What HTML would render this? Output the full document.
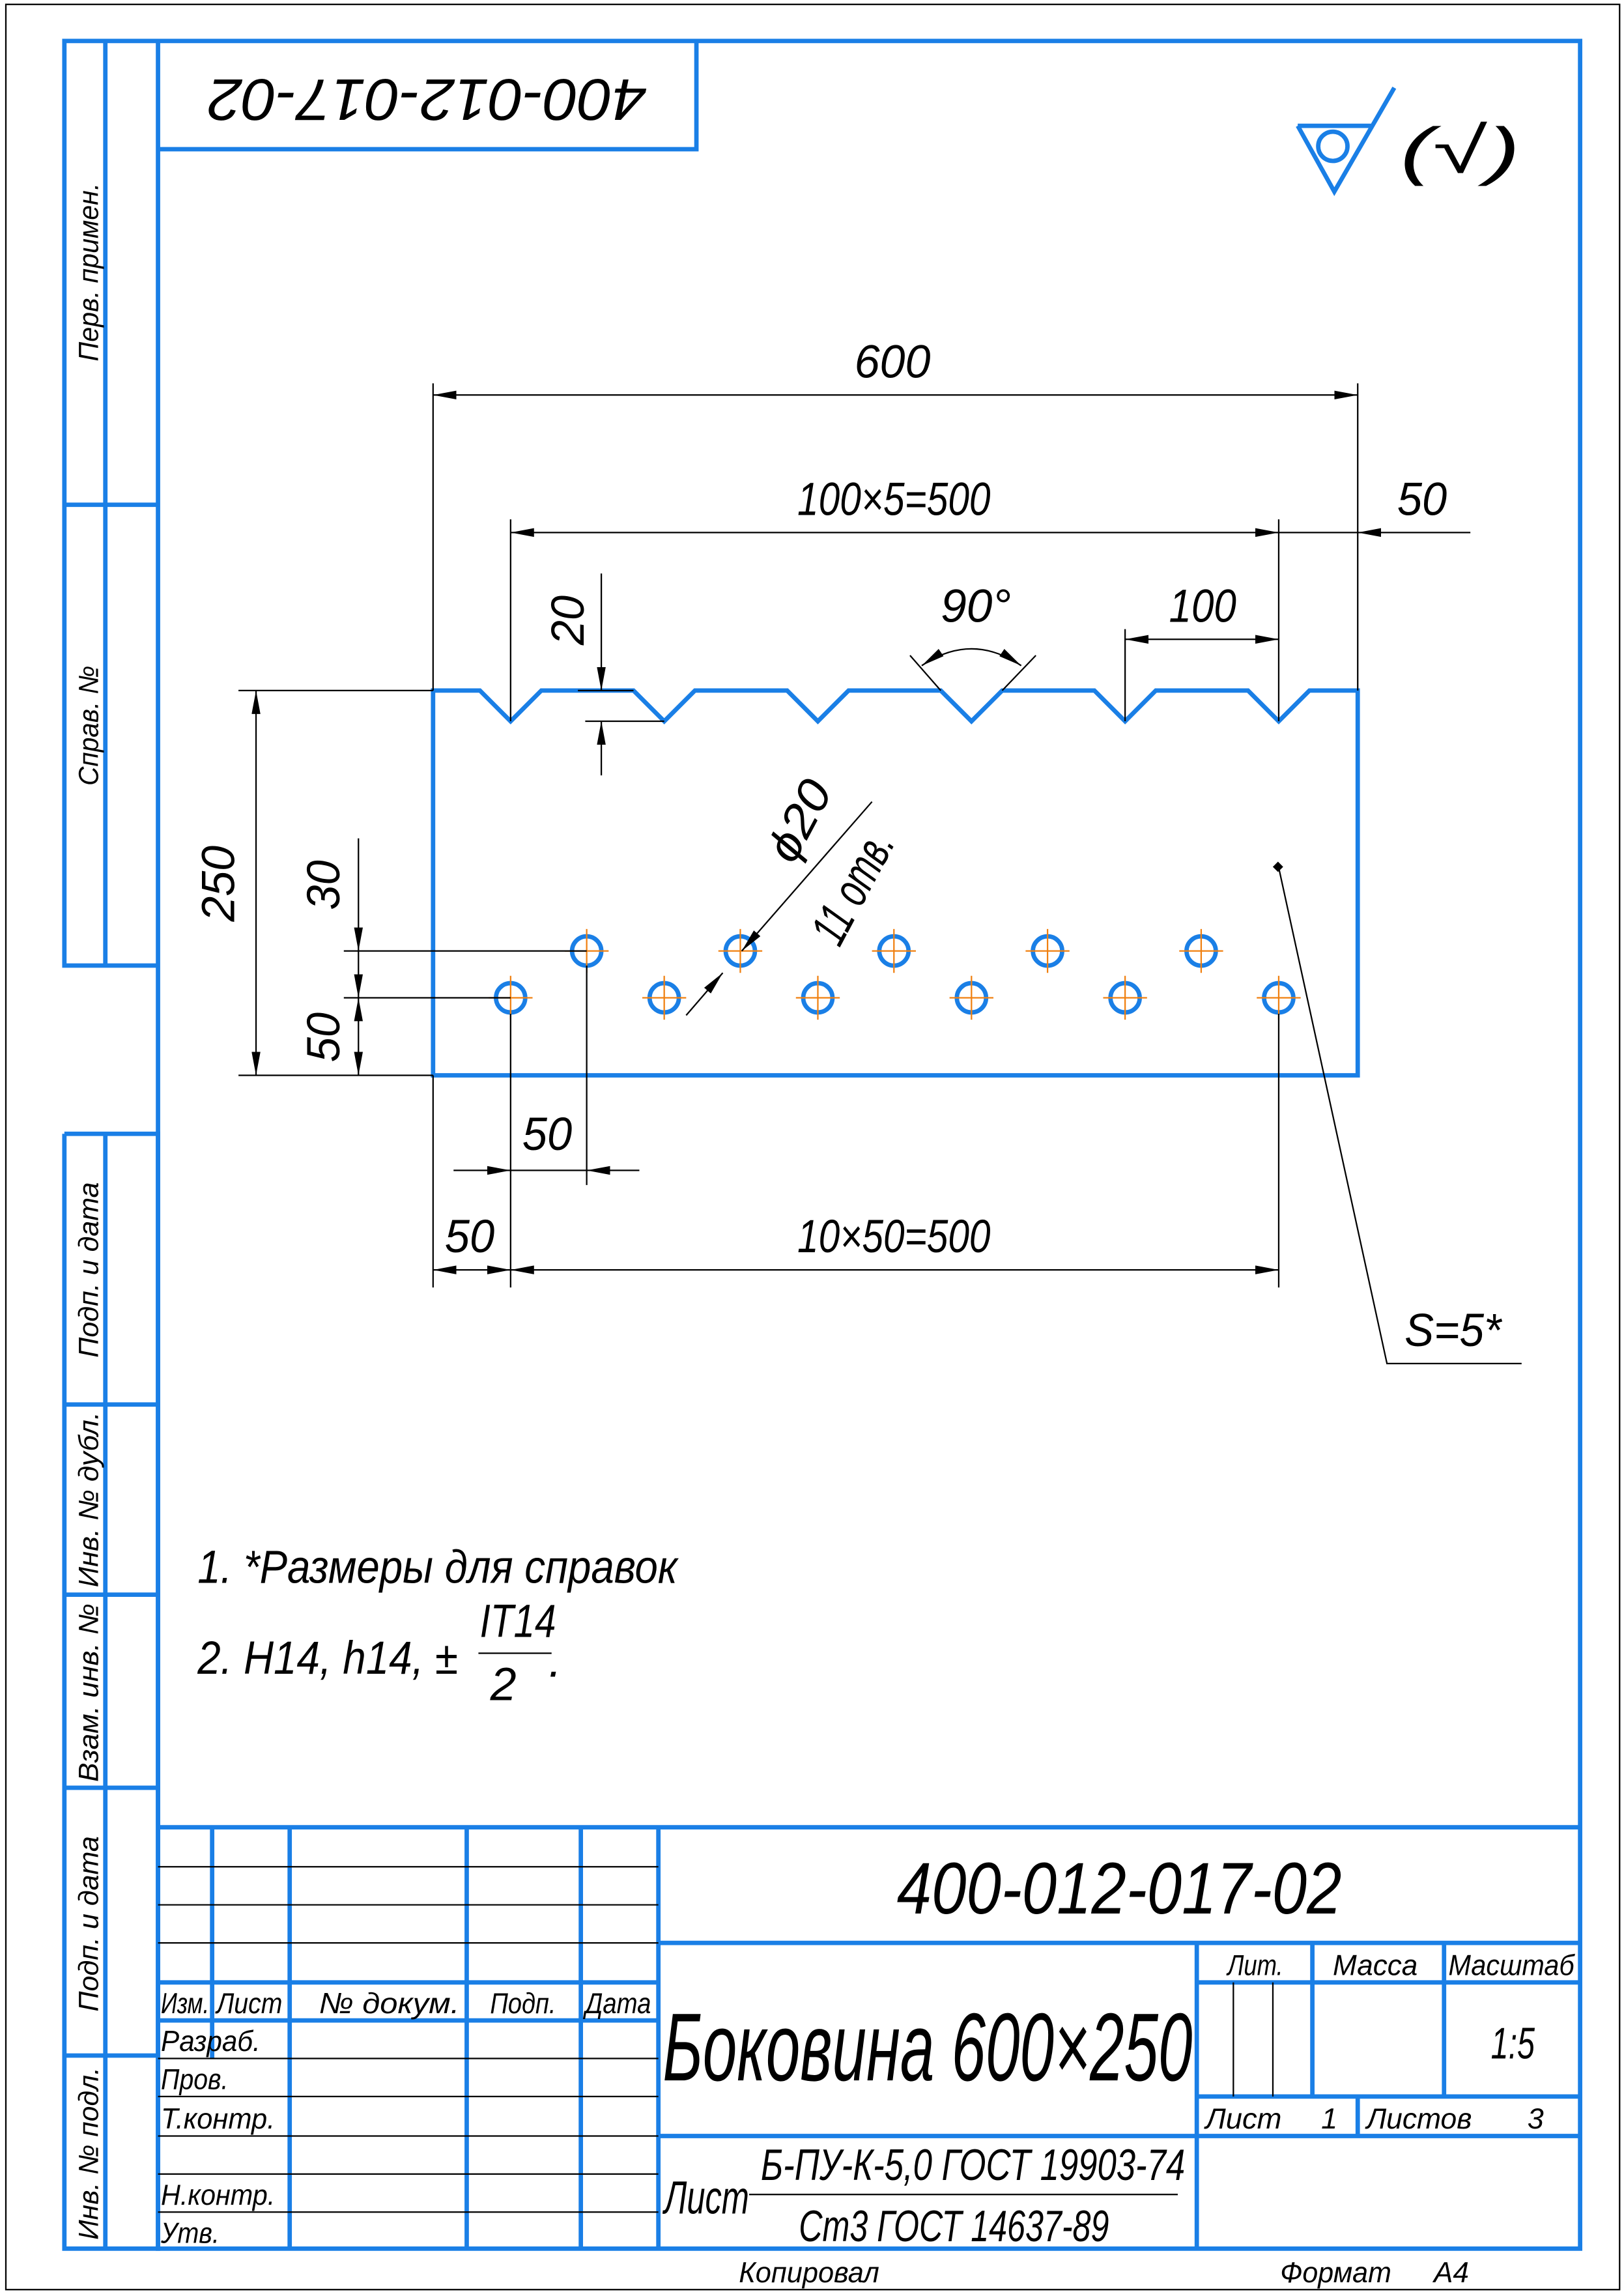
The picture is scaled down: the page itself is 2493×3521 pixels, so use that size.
<!DOCTYPE html>
<html><head><meta charset="utf-8"><style>
html,body{margin:0;padding:0;background:#fff}
svg{display:block}
text{font-family:"Liberation Sans","Noto Sans CJK SC",sans-serif;font-style:italic;fill:#000}
.b{stroke:#1a7fe6;stroke-width:3;fill:none}
.t{stroke:#000;stroke-width:1;fill:none}
.c{stroke:#f08010;stroke-width:1;fill:none}
</style></head><body>
<svg width="2493" height="3521" viewBox="0 0 1110 1568" preserveAspectRatio="none" xmlns="http://www.w3.org/2000/svg">
<defs>
<marker id="a" markerUnits="userSpaceOnUse" markerWidth="16" markerHeight="6" refX="16" refY="3" orient="auto-start-reverse"><path d="M0,0 L16,3 L0,6 z" fill="#000"/></marker>
</defs>
<rect width="1110" height="1568" fill="#fff"/>
<rect x="4" y="3" width="1103" height="1562" fill="none" stroke="#000" stroke-width="1"/>
<rect x="108" y="28" width="972" height="1509" class="b"/>
<path class="b" d="M108,28 H44 V660 H108 M72,28 V660 M44,345 H108 M44,775 H108 V1537 H44 V775 M72,775 V1537 M44,960 H108 M44,1090 H108 M44,1222 H108 M44,1405 H108"/>
<path class="b" d="M108,102 H476 V28"/>
<text transform="translate(292,65) rotate(180)" font-size="40" text-anchor="middle" dominant-baseline="middle" textLength="300" lengthAdjust="spacingAndGlyphs">400-012-017-02</text>
<g font-size="19">
<text transform="translate(67,186) rotate(-90)" text-anchor="middle" textLength="122" lengthAdjust="spacingAndGlyphs">Перв. примен.</text>
<text transform="translate(67,496) rotate(-90)" text-anchor="middle" textLength="82" lengthAdjust="spacingAndGlyphs">Справ. №</text>
<text transform="translate(67,868) rotate(-90)" text-anchor="middle" textLength="120" lengthAdjust="spacingAndGlyphs">Подп. и дата</text>
<text transform="translate(67,1025) rotate(-90)" text-anchor="middle" textLength="120" lengthAdjust="spacingAndGlyphs">Инв. № дубл.</text>
<text transform="translate(67,1157) rotate(-90)" text-anchor="middle" textLength="122" lengthAdjust="spacingAndGlyphs">Взам. инв. №</text>
<text transform="translate(67,1315) rotate(-90)" text-anchor="middle" textLength="120" lengthAdjust="spacingAndGlyphs">Подп. и дата</text>
<text transform="translate(67,1472) rotate(-90)" text-anchor="middle" textLength="118" lengthAdjust="spacingAndGlyphs">Инв. № подл.</text>
</g>
<path class="b" d="M887,86 L912,131 L953,60"/>
<circle cx="911" cy="100" r="10" class="b"/>
<path class="b" d="M887,86 H937"/>
<text x="957" y="118" font-size="44" textLength="82" lengthAdjust="spacingAndGlyphs" font-style="normal">(√)</text>

<path class="b" d="M296,735 V472 H328 L349,493 L370,472 H433 L454,493 L475,472 H538 L559,493 L580,472 H643 L664,493 L685,472 H748 L769,493 L790,472 H853 L874,493 L895,472 H928 V735 Z"/>
<g class="b" stroke-width="2.5">
<circle cx="349" cy="682" r="10"/><circle cx="454" cy="682" r="10"/><circle cx="559" cy="682" r="10"/><circle cx="664" cy="682" r="10"/><circle cx="769" cy="682" r="10"/><circle cx="874" cy="682" r="10"/>
<circle cx="401" cy="650" r="10"/><circle cx="506" cy="650" r="10"/><circle cx="611" cy="650" r="10"/><circle cx="716" cy="650" r="10"/><circle cx="821" cy="650" r="10"/>
</g>
<g class="c">
<path d="M334,682H364 M349,667V697 M439,682H469 M454,667V697 M544,682H574 M559,667V697 M649,682H679 M664,667V697 M754,682H784 M769,667V697 M859,682H889 M874,667V697"/>
<path d="M386,650H416 M401,635V665 M491,650H521 M506,635V665 M596,650H626 M611,635V665 M701,650H731 M716,635V665 M806,650H836 M821,635V665"/>
</g>

<g class="t">
<path d="M296,262 V472 M928,262 V472"/>
<line x1="296" y1="270" x2="928" y2="270" marker-start="url(#a)" marker-end="url(#a)"/>
<path d="M349,355 V493 M874,355 V493"/>
<line x1="349" y1="364" x2="874" y2="364" marker-start="url(#a)" marker-end="url(#a)"/>
<line x1="1005" y1="364" x2="928" y2="364" marker-end="url(#a)"/>
<line x1="874" y1="364" x2="928" y2="364"/>
<path d="M769,430 V493"/>
<line x1="769" y1="437" x2="874" y2="437" marker-start="url(#a)" marker-end="url(#a)"/>
<path d="M622,448 L643,472 M708,448 L685,472"/>
<path d="M630,455 Q664,432 698,455" marker-start="url(#a)" marker-end="url(#a)"/>
<path d="M395,472 H433 M400,493 H454"/>
<line x1="411" y1="392" x2="411" y2="472" marker-end="url(#a)"/>
<line x1="411" y1="530" x2="411" y2="493" marker-end="url(#a)"/>
<path d="M163,472 H296 M163,735 H296"/>
<line x1="175" y1="472" x2="175" y2="735" marker-start="url(#a)" marker-end="url(#a)"/>
<path d="M235,650 H401 M235,682 H349"/>
<line x1="245" y1="573" x2="245" y2="650" marker-end="url(#a)"/>
<line x1="245" y1="650" x2="245" y2="682" marker-end="url(#a)"/>
<line x1="245" y1="682" x2="245" y2="735" marker-start="url(#a)" marker-end="url(#a)"/>
<path d="M349,693 V880 M401,660 V810 M296,735 V880 M874,693 V880"/>
<line x1="310" y1="800" x2="349" y2="800" marker-end="url(#a)"/>
<line x1="349" y1="800" x2="401" y2="800"/>
<line x1="437" y1="800" x2="401" y2="800" marker-end="url(#a)"/>
<line x1="296" y1="868" x2="349" y2="868" marker-start="url(#a)" marker-end="url(#a)"/>
<line x1="349" y1="868" x2="874" y2="868" marker-start="url(#a)" marker-end="url(#a)"/>
<line x1="596" y1="548" x2="507" y2="650" marker-end="url(#a)"/>
<line x1="469" y1="694" x2="494" y2="665" marker-end="url(#a)"/>
<path d="M874,593 L948,932 H1040"/>
</g>
<rect x="871" y="590" width="5" height="5" transform="rotate(45 873.5 592.5)" fill="#000"/>

<g font-size="32">
<text x="610" y="258" text-anchor="middle" textLength="52" lengthAdjust="spacingAndGlyphs">600</text>
<text x="611" y="352" text-anchor="middle" textLength="132" lengthAdjust="spacingAndGlyphs">100×5=500</text>
<text x="972" y="352" text-anchor="middle" textLength="34" lengthAdjust="spacingAndGlyphs">50</text>
<text x="822" y="425" text-anchor="middle" textLength="46" lengthAdjust="spacingAndGlyphs">100</text>
<text x="667" y="425" text-anchor="middle" textLength="48" lengthAdjust="spacingAndGlyphs">90°</text>
<text transform="translate(399,424) rotate(-90)" text-anchor="middle" textLength="34" lengthAdjust="spacingAndGlyphs">20</text>
<text transform="translate(160,604) rotate(-90)" text-anchor="middle" textLength="52" lengthAdjust="spacingAndGlyphs">250</text>
<text transform="translate(232,605) rotate(-90)" text-anchor="middle" textLength="34" lengthAdjust="spacingAndGlyphs">30</text>
<text transform="translate(232,709) rotate(-90)" text-anchor="middle" textLength="34" lengthAdjust="spacingAndGlyphs">50</text>
<text x="374" y="786" text-anchor="middle" textLength="34" lengthAdjust="spacingAndGlyphs">50</text>
<text x="321" y="856" text-anchor="middle" textLength="34" lengthAdjust="spacingAndGlyphs">50</text>
<text x="611" y="856" text-anchor="middle" textLength="132" lengthAdjust="spacingAndGlyphs">10×50=500</text>
<text transform="translate(556,566) rotate(-62)" text-anchor="middle" textLength="58" lengthAdjust="spacingAndGlyphs">ϕ20</text>
<text transform="translate(593,612) rotate(-62)" text-anchor="middle" font-size="34" textLength="82" lengthAdjust="spacingAndGlyphs">11 отв.</text>
<text x="993" y="920" text-anchor="middle" textLength="66" lengthAdjust="spacingAndGlyphs">S=5*</text>
</g>

<g font-size="32">
<text x="135" y="1082" textLength="328" lengthAdjust="spacingAndGlyphs">1.  *Размеры для справок</text>
<text x="135" y="1144" textLength="178" lengthAdjust="spacingAndGlyphs">2.  H14, h14, ±</text>
<text x="354" y="1119" text-anchor="middle" textLength="52" lengthAdjust="spacingAndGlyphs">IT14</text>
<text x="344" y="1162" text-anchor="middle">2</text>
<text x="375" y="1146">.</text>
</g>
<line x1="327" y1="1130" x2="377" y2="1130" class="t"/>

<path class="b" d="M108,1249 H1080 M450,1249 V1537 M108,1355 H450 M108,1381 H450 M450,1328 H1080 M818,1328 V1537 M818,1355 H1080 M818,1433 H1080 M450,1460 H1080 M897,1328 V1433 M987,1328 V1433 M928,1433 V1460 M145,1249 V1407 M198,1249 V1537 M319,1249 V1537 M397,1249 V1537"/>
<path class="t" stroke-width="1.5" d="M108,1276 H450 M108,1302 H450 M108,1328 H450 M108,1407 H450 M108,1433 H450 M108,1460 H450 M108,1486 H450 M108,1512 H450 M843,1355 V1433 M870,1355 V1433"/>
<line x1="512" y1="1500" x2="805" y2="1500" class="t"/>
<text x="765" y="1308" text-anchor="middle" font-size="50" textLength="304" lengthAdjust="spacingAndGlyphs">400-012-017-02</text>
<text x="634" y="1422" text-anchor="middle" font-size="66" font-style="normal" textLength="362" lengthAdjust="spacingAndGlyphs">Боковина 600×250</text>
<g font-size="20">
<text x="110" y="1376" textLength="33" lengthAdjust="spacingAndGlyphs">Изм.</text>
<text x="148" y="1376" textLength="45" lengthAdjust="spacingAndGlyphs">Лист</text>
<text x="218" y="1376" textLength="96" lengthAdjust="spacingAndGlyphs">№ докум.</text>
<text x="335" y="1376" textLength="45" lengthAdjust="spacingAndGlyphs">Подп.</text>
<text x="400" y="1376" textLength="45" lengthAdjust="spacingAndGlyphs">Дата</text>
<text x="110" y="1402" textLength="68" lengthAdjust="spacingAndGlyphs">Разраб.</text>
<text x="110" y="1428" textLength="46" lengthAdjust="spacingAndGlyphs">Пров.</text>
<text x="110" y="1455" textLength="78" lengthAdjust="spacingAndGlyphs">Т.контр.</text>
<text x="110" y="1507" textLength="78" lengthAdjust="spacingAndGlyphs">Н.контр.</text>
<text x="110" y="1533" textLength="40" lengthAdjust="spacingAndGlyphs">Утв.</text>
<text x="839" y="1350" textLength="38" lengthAdjust="spacingAndGlyphs">Лит.</text>
<text x="911" y="1350" textLength="58" lengthAdjust="spacingAndGlyphs">Масса</text>
<text x="990" y="1350" textLength="86" lengthAdjust="spacingAndGlyphs">Масштаб</text>
<text x="824" y="1455" textLength="52" lengthAdjust="spacingAndGlyphs">Лист</text>
<text x="903" y="1455">1</text>
<text x="934" y="1455" textLength="72" lengthAdjust="spacingAndGlyphs">Листов</text>
<text x="1044" y="1455">3</text>
<text x="505" y="1560" textLength="96" lengthAdjust="spacingAndGlyphs">Копировал</text>
<text x="875" y="1560" textLength="76" lengthAdjust="spacingAndGlyphs">Формат</text>
<text x="980" y="1560" textLength="24" lengthAdjust="spacingAndGlyphs">А4</text>
</g>
<text x="1034" y="1407" text-anchor="middle" font-size="30" textLength="30" lengthAdjust="spacingAndGlyphs">1:5</text>
<text x="454" y="1513" font-size="32" textLength="58" lengthAdjust="spacingAndGlyphs">Лист</text>
<text x="520" y="1490" font-size="30" textLength="290" lengthAdjust="spacingAndGlyphs">Б-ПУ-К-5,0 ГОСТ 19903-74</text>
<text x="546" y="1532" font-size="30" textLength="212" lengthAdjust="spacingAndGlyphs">Ст3 ГОСТ 14637-89</text>
</svg>
</body></html>
